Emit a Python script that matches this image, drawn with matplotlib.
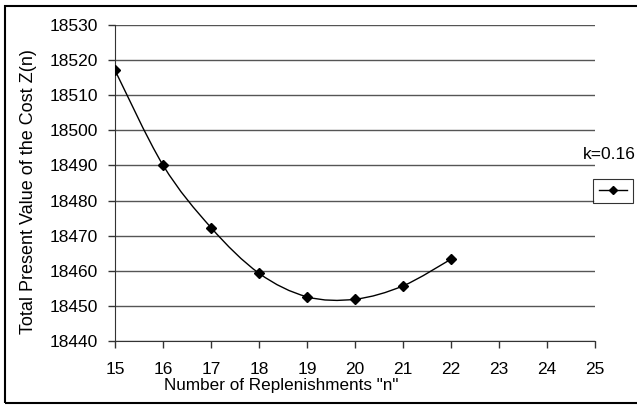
import matplotlib
matplotlib.use("Agg")
import numpy as np
from matplotlib import pyplot as plt
from matplotlib.path import Path
from matplotlib.patches import PathPatch, Rectangle
from matplotlib.lines import Line2D

# ==== 資料 ====
n_values = [15, 16, 17, 18, 19, 20, 21, 22]
z_values = [18517.1, 18490.1, 18472.3, 18459.3, 18452.6, 18451.9, 18455.7, 18463.3]
x_ticks = list(range(15, 26))
y_ticks = list(range(18440, 18531, 10))
series_label = "k=0.16"

plt.rcParams["font.family"] = ["Liberation Sans", "DejaVu Sans"]

W, H = 637, 405
fig = plt.figure(figsize=(W / 100, H / 100), dpi=100)
ax = fig.add_axes([115 / W, 1 - 341 / H, (595 - 115) / W, (341 - 25) / H])

# 外框 (右邊超出畫面)
fig.patches.append(Rectangle((5 / W, 2.5 / H), 1.0, 1 - 8 / H, transform=fig.transFigure,
                             fill=False, lw=1.5, ec="black", clip_on=False))


def smooth_path(xs, ys):
    # Excel 風格平滑線: Catmull-Rom 轉 Bezier
    pts = np.column_stack([xs, ys]).astype(float)
    verts = [pts[0]]
    codes = [Path.MOVETO]
    for i in range(len(pts) - 1):
        p0 = pts[max(i - 1, 0)]
        p1 = pts[i]
        p2 = pts[i + 1]
        p3 = pts[min(i + 2, len(pts) - 1)]
        c1 = p1 + (p2 - p0) / 6
        c2 = p2 - (p3 - p1) / 6
        verts += [c1, c2, p2]
        codes += [Path.CURVE4] * 3
    return Path(verts, codes)


ax.add_patch(PathPatch(smooth_path(n_values, z_values), fill=False, lw=1.0, ec="black", zorder=3))
ax.plot(n_values, z_values, ls="none", marker="D", ms=5, color="black", zorder=4)

ax.set_xlim(15, 25)
ax.set_ylim(18440, 18530)
ax.set_xticks(x_ticks)
ax.set_yticks(y_ticks)
ax.tick_params(direction="out", length=5, width=1, color="#333333", labelsize=12.5)
ax.tick_params(axis="x", pad=10)
ax.tick_params(axis="y", pad=7)
ax.grid(axis="y", color="#555555", lw=1)
ax.set_axisbelow(True)
for s in ["top", "right"]:
    ax.spines[s].set_visible(False)
for s in ["left", "bottom"]:
    ax.spines[s].set_color("#333333")

ax.set_xlabel('Number of Replenishments "n"', fontsize=12.3, va="center")
ax.xaxis.set_label_coords(0.347, -0.141)
ax.set_ylabel("Total Present Value of the Cost Z(n)", fontsize=13, va="center")
ax.yaxis.set_label_coords(-0.181, 0.4715)

# 圖例
fig.text(636 / W, 1 - 155 / H, series_label, ha="right", va="center", fontsize=12.5)
handle = Line2D([], [], color="black", lw=1, marker="D", ms=4.5)
leg = fig.legend([handle], [""], loc="center", bbox_to_anchor=(613 / W, 1 - 191 / H),
                 frameon=True, fancybox=False, edgecolor="black", handlelength=2.3,
                 handletextpad=0, borderpad=0.45, fontsize=9)
leg.get_frame().set_linewidth(0.8)

fig.savefig("out.png", dpi=100)
